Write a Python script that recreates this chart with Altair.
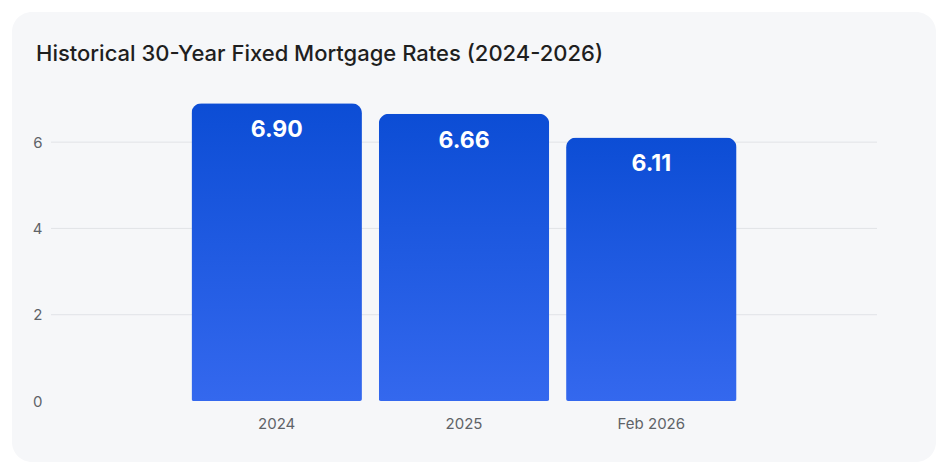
import altair as alt
import pandas as pd

categories = ["2024", "2025", "Feb 2026"]
rates = [6.90, 6.66, 6.11]
labels = ["6.90", "6.66", "6.11"]
y_ticks = [0, 2, 4, 6]
grid_values = [2, 4, 6]
title_text = "Historical 30-Year Fixed Mortgage Rates (2024-2026)"

df = pd.DataFrame({"period": categories, "rate": rates, "label": labels})
grid_df = pd.DataFrame({"rate": grid_values})
title_df = pd.DataFrame({"t": [title_text]})
card_df = pd.DataFrame({"k": [0]})

FONT = "Inter"

y_scale = alt.Scale(domain=[0, 7], nice=False)
y_axis = alt.Axis(values=y_ticks, domain=False, ticks=False, grid=False, labelPadding=9,
                  labelFontSize=15, labelColor="#5f6368", labelFont=FONT, zindex=1)

x_enc = alt.X("period:N", sort=None, title=None,
              scale=alt.Scale(paddingInner=0.09, paddingOuter=0.75),
              axis=alt.Axis(labelAngle=0, domain=False, ticks=False, grid=False, labelPadding=15,
                            labelFontSize=15, labelColor="#5f6368", labelFont=FONT, zindex=1))
y_enc = alt.Y("rate:Q", title=None, scale=y_scale, axis=y_axis)

card = alt.Chart(card_df).mark_rect(
    fill="#f6f7f9", cornerRadius=20, clip=False
).encode(x=alt.value(-39), x2=alt.value(885), y=alt.value(-87), y2=alt.value(363))

grid = alt.Chart(grid_df).mark_rule(color="#e1e3e7", strokeWidth=1).encode(
    y=y_enc, x=alt.value(0), x2=alt.value(826))

gradient = alt.Gradient(
    gradient="linear",
    stops=[alt.GradientStop(color="#0c4dd5", offset=0),
           alt.GradientStop(color="#3468ee", offset=1)],
    x1=0, x2=0, y1=0, y2=1,
)

bars = alt.Chart(df).mark_bar(
    color=gradient, cornerRadiusTopLeft=10, cornerRadiusTopRight=10,
    cornerRadiusBottomLeft=2, cornerRadiusBottomRight=2
).encode(x=x_enc, y=y_enc)

text = alt.Chart(df).mark_text(
    color="white", fontSize=23, fontWeight="bold", font=FONT, baseline="middle", dy=27
).encode(x=alt.X("period:N", sort=None), y=alt.Y("rate:Q"), text="label:N")

title = alt.Chart(title_df).mark_text(
    align="left", baseline="alphabetic", fontSize=22, fontWeight=500, font=FONT,
    color="#1f1f1f", clip=False
).encode(x=alt.value(-15), y=alt.value(-38), text="t:N")

chart = alt.layer(card, grid, bars, text, title).properties(
    width=826, height=302,
    autosize=alt.AutoSizeParams(type="none"),
    padding={"left": 43, "top": 91, "right": 60, "bottom": 65},
    background="white",
).configure_view(stroke=None)

chart.save("out.html", embed_options={"renderer": "svg", "actions": False})
